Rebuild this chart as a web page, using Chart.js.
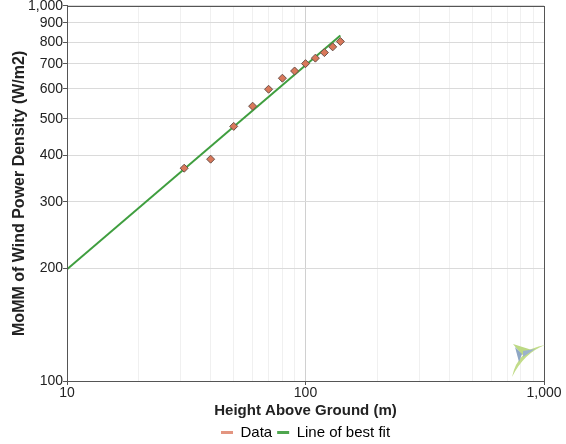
<!DOCTYPE html>
<html>
<head>
<meta charset="utf-8">
<script src="https://cdn.jsdelivr.net/npm/chart.js@4"></script>
<style>
  html, body { margin: 0; padding: 0; background: #fff; }
  #wrap { width: 566px; height: 444px; }
</style>
</head>
<body>
<div id="wrap"><canvas id="chart"></canvas></div>
<script>
// measured heights (m) and MoMM wind power density (W/m2)
const heights = [31, 40, 50, 60, 70, 80, 90, 100, 110, 120, 130, 140];
const density = [369, 390, 477, 540, 599, 641, 670, 701, 725, 750, 777, 803];

// best fit line end points
const fitHeights = [10, 140];
const fitDensity = [198.5, 833];

// axis ticks
const yTicks = [100, 200, 300, 400, 500, 600, 700, 800, 900, 1000];
const xTicks = [10, 20, 30, 40, 50, 60, 70, 80, 90, 100, 200, 300, 400, 500, 600, 700, 800, 900, 1000];
const xLabelled = [10, 100, 1000];

const dataColor = '#d9785a';
const fitColor = '#3f9e3f';
const fmt = v => v.toLocaleString('en-US');

// little logo down in the corner of the plot
const logoPlugin = {
  id: 'logo',
  afterDraw(chart) {
    const { ctx, chartArea: a } = chart;
    const x = a.right, y = a.bottom;
    const poly = (pts, col) => {
      ctx.fillStyle = col;
      ctx.beginPath();
      pts.forEach(([px, py], i) => i ? ctx.lineTo(x + px, y + py) : ctx.moveTo(x + px, y + py));
      ctx.closePath();
      ctx.fill();
    };
    ctx.save();
    // swoosh
    ctx.fillStyle = '#c2dc8a';
    ctx.beginPath();
    ctx.moveTo(x - 32, y - 4);
    ctx.quadraticCurveTo(x - 26, y - 32, x + 1, y - 36);
    ctx.quadraticCurveTo(x - 20, y - 28, x - 32, y - 4);
    ctx.fill();
    // kite
    poly([[-31, -37], [-12, -31], [-22, -26]], '#bcd984');
    poly([[-29, -34], [-22, -27], [-25, -19]], '#8fa7c4');
    poly([[-21, -30], [-9, -32], [-21, -24]], '#9bb2cc');
    ctx.restore();
  }
};

// frame round the plot area
const framePlugin = {
  id: 'frame',
  afterDatasetsDraw(chart) {
    const { ctx, chartArea: a } = chart;
    ctx.save();
    ctx.strokeStyle = '#555';
    ctx.lineWidth = 1;
    ctx.strokeRect(Math.round(a.left) + 0.5, Math.round(a.top) + 0.5,
      Math.round(a.right - a.left), Math.round(a.bottom - a.top));
    ctx.restore();
  }
};

Chart.defaults.font.family = '"Liberation Sans", Arial, sans-serif';
Chart.defaults.color = '#222';

new Chart(document.getElementById('chart'), {
  type: 'scatter',
  data: {
    datasets: [
      {
        label: 'Data',
        data: heights.map((h, i) => ({ x: h, y: density[i] })),
        pointStyle: 'rectRot',
        pointRadius: 4,
        backgroundColor: dataColor,
        borderColor: '#6a5048',
        borderWidth: 1,
        showLine: false,
        order: 1
      },
      {
        label: 'Line of best fit',
        type: 'line',
        data: fitHeights.map((h, i) => ({ x: h, y: fitDensity[i] })),
        borderColor: fitColor,
        borderWidth: 2,
        pointRadius: 0,
        fill: false,
        order: 2
      }
    ]
  },
  options: {
    responsive: true,
    maintainAspectRatio: false,
    animation: false,
    layout: { padding: { top: 0, right: 22, left: 12, bottom: -6 } },
    plugins: {
      tooltip: { enabled: false },
      legend: {
        position: 'bottom',
        fullSize: false,
        labels: {
          font: { size: 15, lineHeight: 1 },
          padding: 5,
          boxWidth: 12,
          boxHeight: 3,
          generateLabels: chart => chart.data.datasets.map((ds, i) => ({
            text: ds.label,
            fillStyle: i === 0 ? '#e39580' : '#4ea64e',
            strokeStyle: i === 0 ? '#e39580' : '#4ea64e',
            lineWidth: 0,
            datasetIndex: i
          }))
        }
      }
    },
    scales: {
      x: {
        type: 'logarithmic',
        min: 10,
        max: 1000,
        afterBuildTicks: s => { s.ticks = xTicks.map(v => ({ value: v })); },
        ticks: {
          autoSkip: false,
          maxRotation: 0,
          font: { size: 14, lineHeight: 1 },
          color: '#222',
          padding: 1,
          callback: v => xLabelled.includes(v) ? fmt(v) : ''
        },
        grid: {
          color: c => c.tick && c.tick.value === 100 ? '#d0d0d0' : '#f0f0f0',
          tickColor: c => c.tick && xLabelled.includes(c.tick.value) ? '#555' : 'rgba(0,0,0,0)',
          tickLength: 4
        },
        border: { color: '#555' },
        title: {
          display: true,
          text: 'Height Above Ground (m)',
          font: { size: 15, weight: 'bold', lineHeight: 1 },
          color: '#222',
          padding: { top: 2, bottom: 2 }
        }
      },
      y: {
        type: 'logarithmic',
        min: 100,
        max: 1000,
        afterBuildTicks: s => { s.ticks = yTicks.map(v => ({ value: v })); },
        ticks: {
          autoSkip: false,
          font: { size: 14, lineHeight: 0.82 },
          color: '#222',
          padding: 0,
          callback: v => fmt(v)
        },
        grid: {
          color: '#dadada',
          tickColor: '#555',
          tickLength: 4
        },
        border: { color: '#555' },
        title: {
          display: true,
          text: 'MoMM of Wind Power Density (W/m2)',
          font: { size: 16, weight: 'bold', lineHeight: 1 },
          color: '#222',
          padding: { top: 0, bottom: 0 }
        }
      }
    }
  },
  plugins: [framePlugin, logoPlugin]
});
</script>
</body>
</html>
